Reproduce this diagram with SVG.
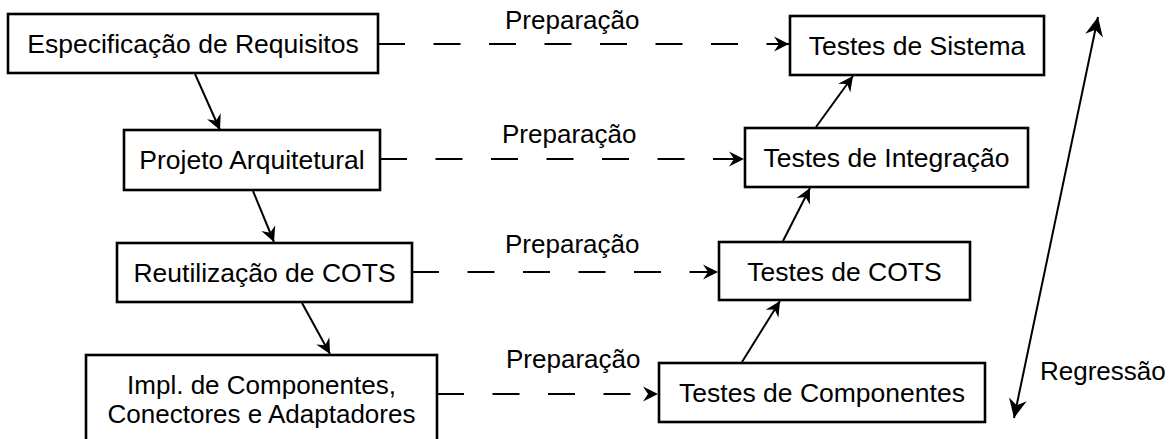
<svg xmlns="http://www.w3.org/2000/svg" width="1175" height="439" viewBox="0 0 1175 439">
  <style>
    .box { fill: #ffffff; stroke: #000000; stroke-width: 2.6; }
    .txt { font-family: "Liberation Sans", Arial, sans-serif; font-size: 26.5px; fill: #000000; text-anchor: middle; }
    .txt2 { font-family: "Liberation Sans", Arial, sans-serif; font-size: 26px; fill: #000000; text-anchor: middle; }
    .lbl { font-family: "Liberation Sans", Arial, sans-serif; font-size: 26px; fill: #000000; }
    .flow { stroke: #000000; stroke-width: 2; fill: none; marker-end: url(#head); }
    .prep { stroke: #000000; stroke-width: 2.2; fill: none; stroke-dasharray: 27 28.5; marker-end: url(#head); }
    .reg { stroke: #000000; stroke-width: 2; fill: none; marker-start: url(#bigHead); marker-end: url(#bigHead); }
  </style>
  <defs>
    <marker id="head" markerUnits="userSpaceOnUse" viewBox="-16 -8 17 16" refX="0" refY="0" markerWidth="17" markerHeight="16" orient="auto">
      <path d="M0,0 L-15,-7.5 L-10,0 L-15,7.5 Z" fill="#000000"/>
    </marker>
    <marker id="bigHead" markerUnits="userSpaceOnUse" viewBox="-20 -10 21 20" refX="0" refY="0" markerWidth="21" markerHeight="20" orient="auto-start-reverse">
      <path d="M0,0 L-19,-9 L-13,0 L-19,9 Z" fill="#000000"/>
    </marker>
  </defs>

  <!-- connectors -->
  <g id="connectors">
    <!-- development chain, top to bottom -->
    <line class="flow" x1="195" y1="74" x2="220" y2="130"/>
    <line class="flow" x1="253" y1="191" x2="274" y2="242"/>
    <line class="flow" x1="302" y1="303" x2="330" y2="354"/>
    <!-- test chain, bottom to top -->
    <line class="flow" x1="742" y1="362" x2="780" y2="301"/>
    <line class="flow" x1="783" y1="241" x2="810" y2="188"/>
    <line class="flow" x1="816" y1="127" x2="853" y2="76"/>
    <!-- preparation links -->
    <line class="prep" x1="378" y1="44" x2="789" y2="44"/>
    <line class="prep" x1="380" y1="159" x2="744" y2="159"/>
    <line class="prep" x1="412" y1="272" x2="718" y2="272"/>
    <line class="prep" x1="437" y1="394" x2="658" y2="394"/>
    <!-- regression -->
    <line class="reg" x1="1014" y1="418" x2="1098" y2="17"/>
  </g>

  <g id="labels">
    <text class="lbl" x="505" y="29">Preparação</text>
    <text class="lbl" x="502" y="143">Preparação</text>
    <text class="lbl" x="505" y="253">Preparação</text>
    <text class="lbl" x="506" y="368">Preparação</text>
    <text class="lbl" x="1040" y="380">Regressão</text>
  </g>

  <g id="especificacao">
    <rect class="box" x="8" y="14" width="370" height="59"/>
    <text class="txt" x="193" y="53">Especificação de Requisitos</text>
  </g>
  <g id="projeto">
    <rect class="box" x="124" y="130" width="256" height="60"/>
    <text class="txt" x="252" y="169">Projeto Arquitetural</text>
  </g>
  <g id="reutilizacao">
    <rect class="box" x="117" y="243" width="295" height="59"/>
    <text class="txt" x="264.5" y="282">Reutilização de COTS</text>
  </g>
  <g id="implementacao">
    <rect class="box" x="86" y="355" width="351" height="92"/>
    <text class="txt2" x="261.5" y="394">Impl. de Componentes,</text>
    <text class="txt2" x="261.5" y="423">Conectores e Adaptadores</text>
  </g>
  <g id="testes-sistema">
    <rect class="box" x="790" y="16" width="254" height="59"/>
    <text class="txt" x="917" y="55">Testes de Sistema</text>
  </g>
  <g id="testes-integracao">
    <rect class="box" x="745" y="128" width="283" height="59"/>
    <text class="txt" x="886.5" y="167">Testes de Integração</text>
  </g>
  <g id="testes-cots">
    <rect class="box" x="719" y="242" width="251" height="58"/>
    <text class="txt" x="844.5" y="281">Testes de COTS</text>
  </g>
  <g id="testes-componentes">
    <rect class="box" x="659" y="363" width="326" height="59"/>
    <text class="txt" x="822" y="402">Testes de Componentes</text>
  </g>
</svg>
